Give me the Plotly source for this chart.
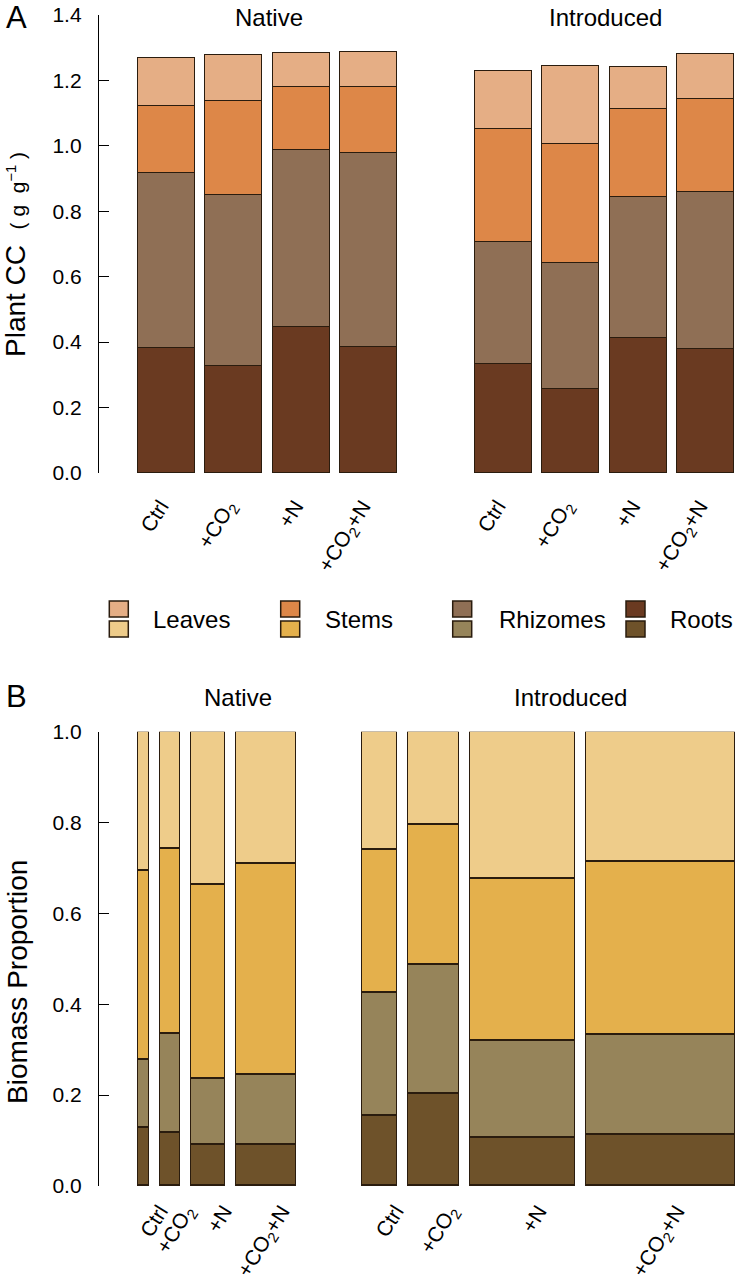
import plotly.graph_objects as go

W, H = 738, 1280
FONT = "Liberation Sans, Arial, sans-serif"

treatments = ["Ctrl", "+CO<sub>2</sub>", "+N", "+CO<sub>2</sub>+N"]
groups = ["Native", "Introduced"]
organs = ["Leaves", "Stems", "Rhizomes", "Roots"]

# panel A: plant carbon concentration by organ (g g-1); Native x4 then Introduced x4
cc_roots = [0.383, 0.328, 0.445, 0.386, 0.332, 0.258, 0.414, 0.378]
cc_rhizomes = [0.533, 0.522, 0.543, 0.591, 0.373, 0.385, 0.431, 0.482]
cc_stems = [0.206, 0.287, 0.191, 0.202, 0.347, 0.362, 0.269, 0.284]
cc_leaves = [0.147, 0.140, 0.106, 0.109, 0.178, 0.240, 0.127, 0.136]

# panel B: biomass proportion by organ; bar width ~ relative total biomass
bp_roots = [0.128, 0.117, 0.090, 0.092, 0.154, 0.204, 0.106, 0.112]
bp_rhizomes = [0.151, 0.219, 0.146, 0.152, 0.272, 0.284, 0.213, 0.222]
bp_stems = [0.415, 0.406, 0.428, 0.465, 0.314, 0.308, 0.358, 0.380]
bp_leaves = [0.306, 0.258, 0.336, 0.291, 0.260, 0.204, 0.323, 0.286]
total_biomass = [11.0, 19.7, 33.6, 60.0, 35.6, 51.0, 104.7, 149.3]

colors_a = {"Leaves": "#E5AE85", "Stems": "#DD8748", "Rhizomes": "#8F6F55", "Roots": "#6A3A21"}
colors_b = {"Leaves": "#EECC8A", "Stems": "#E4B04C", "Rhizomes": "#96845A", "Roots": "#6E522A"}
OUTLINE = "#2a1c0e"


def px_x(p):
    return p / W


def px_y(p):
    return 1 - p / H


labels = treatments * 2

# panel A positions: slot 4 left empty between groups
x_a = [i + (i >= 4) for i in range(8)]

# panel B positions: widths from biomass, R-style spacing
gap, group_gap = 11.0, 66.1
x_b = []
edge = 0.0
for i, w in enumerate(total_biomass):
    if i == 4:
        edge += group_gap - gap
    x_b.append(edge + w / 2)
    edge += w + gap

fig = go.Figure()

series_a = {"Roots": cc_roots, "Rhizomes": cc_rhizomes, "Stems": cc_stems, "Leaves": cc_leaves}
series_b = {"Roots": bp_roots, "Rhizomes": bp_rhizomes, "Stems": bp_stems, "Leaves": bp_leaves}

for organ, vals in series_a.items():
    fig.add_trace(go.Bar(
        x=x_a, y=vals, width=0.846, name=organ, showlegend=False,
        marker=dict(color=colors_a[organ], line=dict(color=OUTLINE, width=1.5)),
        xaxis="x", yaxis="y",
    ))

for organ, vals in series_b.items():
    fig.add_trace(go.Bar(
        x=x_b, y=vals, width=total_biomass, name=organ, showlegend=False,
        marker=dict(color=colors_b[organ], line=dict(color=OUTLINE, width=1.5)),
        xaxis="x2", yaxis="y2",
    ))

yaxis_common = dict(
    showline=True, linecolor="black", linewidth=1.3, ticks="inside", ticklen=10,
    tickcolor="black", tickwidth=1.3, showgrid=False, zeroline=False, automargin=False,
    tickfont=dict(family=FONT, size=21, color="black"), ticklabelstandoff=12,
    ticklabeloverflow="allow",
)
xaxis_common = dict(
    showline=False, showgrid=False, zeroline=False, ticks="", tickangle=-58, automargin=False,
    tickfont=dict(family=FONT, size=21, color="black"), ticklabeloverflow="allow",
)

fig.update_layout(
    width=W, height=H, barmode="stack", bargap=0,
    margin=dict(l=0, r=0, t=0, b=0, autoexpand=False),
    paper_bgcolor="white", plot_bgcolor="white",
    font=dict(family=FONT, color="black"),
    xaxis=dict(
        domain=[px_x(99), 1], range=[(99 - 166.5) / 67.4, (738 - 166.5) / 67.4],
        tickvals=x_a, ticktext=labels, anchor="y", ticklabelstandoff=16, ticklabelshift=-6,
        **xaxis_common,
    ),
    yaxis=dict(
        domain=[px_y(473), px_y(15)], range=[0, 1.4], tickvals=[0, 0.2, 0.4, 0.6, 0.8, 1.0, 1.2, 1.4],
        tickformat=".1f", anchor="x", **yaxis_common,
    ),
    xaxis2=dict(
        domain=[px_x(99), 1], range=[99 - 138.3, 738 - 138.3],
        tickvals=x_b, ticktext=labels, anchor="y2", ticklabelshift=16, ticklabelstandoff=8,
        **xaxis_common,
    ),
    yaxis2=dict(
        domain=[px_y(1186), px_y(731.7)], range=[0, 1], tickvals=[0, 0.2, 0.4, 0.6, 0.8, 1.0],
        tickformat=".1f", anchor="x2", **yaxis_common,
    ),
)

annotations = []


def add_text(text, x, y, size, angle=0, xanchor="center"):
    annotations.append(dict(
        text=text, x=px_x(x), y=px_y(y), xref="paper", yref="paper",
        xanchor=xanchor, yanchor="middle", showarrow=False, textangle=angle,
        font=dict(family=FONT, size=size, color="black"),
    ))


add_text("A", 16, 18, 31)
add_text("B", 16, 696, 31)
add_text(groups[0], 269, 18, 24)
add_text(groups[1], 605, 18, 24)
add_text(groups[0], 238, 697, 24)
add_text(groups[1], 570, 697, 24)
add_text("Plant CC&nbsp;&nbsp;<span style='font-size:21px'>(&nbsp;g&nbsp;&nbsp;g<sup>−1</sup>&nbsp;)</span>",
         15, 255, 28, angle=-90)
add_text("Biomass Proportion", 17, 982, 28, angle=-90)

# legend: two-tone swatch per organ (panel A colour over panel B colour)
shapes = []
legend_box_x = [109.3, 280.7, 452.7, 626.0]
legend_text_x = [150.7, 323.3, 496.7, 668.3]
for organ, bx, tx in zip(organs, legend_box_x, legend_text_x):
    for (y0, y1), col in (((601, 617), colors_a[organ]), ((621, 637), colors_b[organ])):
        shapes.append(dict(
            type="rect", xref="paper", yref="paper",
            x0=px_x(bx), x1=px_x(bx + 19), y0=px_y(y1), y1=px_y(y0),
            fillcolor=col, line=dict(color=OUTLINE, width=1.5),
        ))
    add_text(organ, tx, 619, 24, xanchor="left")

fig.update_layout(annotations=annotations, shapes=shapes)

# drop the default 8px body margin so the figure sits flush in the window
fig.write_html(
    "out.html",
    config={"displayModeBar": False},
    post_script="document.body.style.margin='0';",
)
